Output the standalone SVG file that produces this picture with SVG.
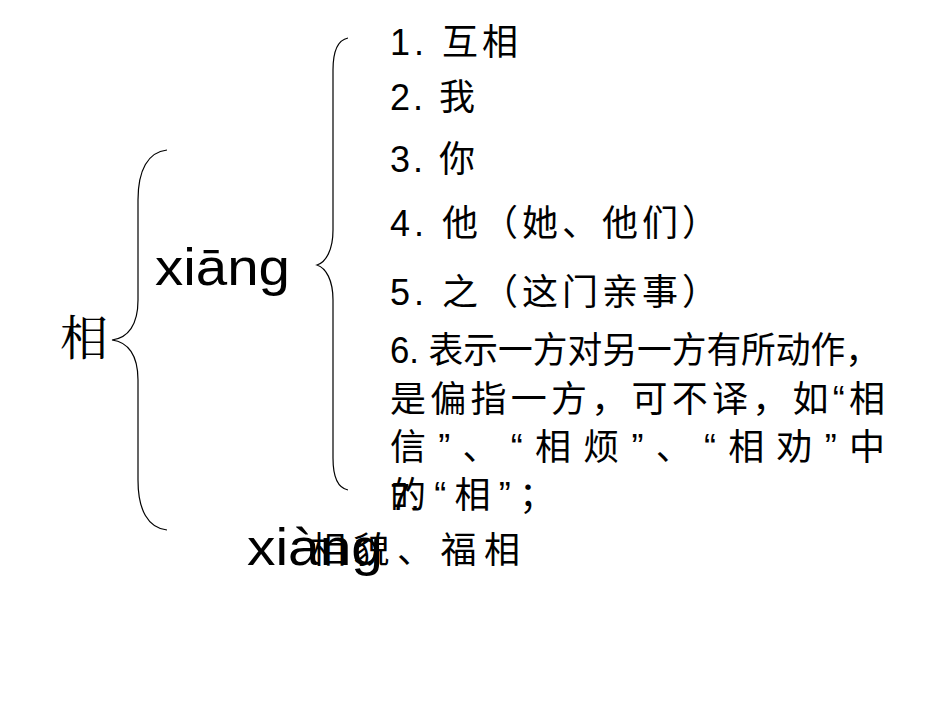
<svg xmlns="http://www.w3.org/2000/svg" width="950" height="713" viewBox="0 0 950 713">
<style>
.t{font-family:"Liberation Sans","Noto Sans CJK SC",sans-serif;font-size:36px;fill:#000}
.p{font-family:"Liberation Sans","Noto Sans CJK SC",sans-serif;font-size:52px;fill:#000}
.c{font-family:"Liberation Serif","Noto Serif CJK SC","Noto Sans CJK SC",serif;font-size:48px;fill:#000}
.b{fill:none;stroke:#000;stroke-width:1.2}
</style>
<rect width="950" height="713" fill="#fff"/>
<g id="connectors">
<path class="b" d="M167,150 C148,152 138,170 138,200 L138,300 C138,325 128,338 112,340 C128,342 138,355 138,380 L138,480 C138,510 148,528 167,530"/>
<path class="b" d="M348,38 C338,40 333,52 333,70 L333,230 C333,250 326,262 317,265 C326,268 333,280 333,300 L333,458 C333,476 338,488 348,490"/>
</g>
<g id="root"><text class="c" x="60" y="355">相</text></g>
<g id="xiang1"><text class="p" x="155" y="285" textLength="135" lengthAdjust="spacingAndGlyphs">xiāng</text></g>
<g id="xiang4"><text class="p" x="247" y="565" textLength="136" lengthAdjust="spacingAndGlyphs">xiàng</text></g>
<g id="items">
<text class="t" x="390" y="55" textLength="128">1. 互相</text>
<text class="t" x="390" y="110" textLength="85">2. 我</text>
<text class="t" x="390" y="172" textLength="85">3. 你</text>
<text class="t" x="390" y="236" textLength="328">4. 他（她、他们）</text>
<text class="t" x="390" y="305" textLength="328">5. 之（这门亲事）</text>
<text class="t" x="390" y="363" textLength="490" lengthAdjust="spacingAndGlyphs">6. 表示一方对另一方有所动作，</text>
<text class="t" x="390" y="412" textLength="495">是偏指一方，可不译，如“相</text>
<text class="t" x="390" y="460" textLength="495">信”、“相烦”、“相劝”中</text>
<text class="t" x="390" y="508" textLength="165">的“相”；</text>
<text class="t" x="390" y="510">7.</text>
<text class="t" x="310" y="563" textLength="210">相貌、福相</text>
</g>
</svg>
